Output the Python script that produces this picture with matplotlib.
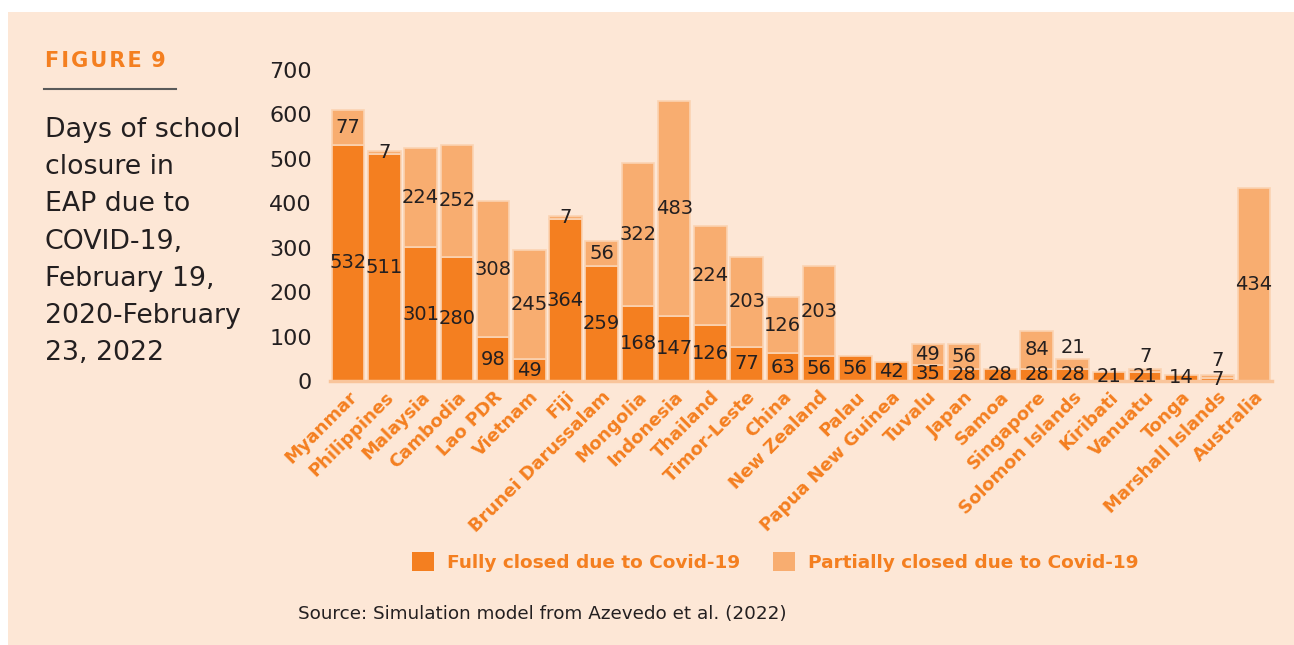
import matplotlib
matplotlib.use("Agg")
import matplotlib.pyplot as plt
from matplotlib.patches import Rectangle, Patch
from matplotlib.lines import Line2D
import numpy as np

# data
countries = ["Myanmar", "Philippines", "Malaysia", "Cambodia", "Lao PDR", "Vietnam", "Fiji",
             "Brunei Darussalam", "Mongolia", "Indonesia", "Thailand", "Timor-Leste", "China",
             "New Zealand", "Palau", "Papua New Guinea", "Tuvalu", "Japan", "Samoa", "Singapore",
             "Solomon Islands", "Kiribati", "Vanuatu", "Tonga", "Marshall Islands", "Australia"]
fully = [532, 511, 301, 280, 98, 49, 364, 259, 168, 147, 126, 77, 63,
         56, 56, 42, 35, 28, 28, 28, 28, 21, 21, 14, 7, 0]
partial = [77, 7, 224, 252, 308, 245, 7, 56, 322, 483, 224, 203, 126,
           203, 0, 0, 49, 56, 0, 84, 21, 0, 7, 0, 7, 434]
yticks = [0, 100, 200, 300, 400, 500, 600, 700]
series_names = ["Fully closed due to Covid-19", "Partially closed due to Covid-19"]
title_lines = ["Days of school", "closure in", "EAP due to", "COVID-19,",
               "February 19,", "2020-February", "23, 2022"]

# colours
bg = "#FDE7D6"
dark = "#F47F20"
light = "#F8AD70"
edge = "#FBD3B2"
ink = "#231F20"

W, H = 1294, 645
fig = plt.figure(figsize=(W / 100, H / 100), dpi=100)
fig.patch.set_facecolor("white")
fig.add_artist(Rectangle((8 / W, 0), 1 - 8 / W, 1 - 12 / H, transform=fig.transFigure,
                         facecolor=bg, edgecolor="none", zorder=0))

ax = fig.add_axes([330 / W, 1 - 381 / H, (1272 - 330) / W, 311 / H])
ax.set_facecolor("none")

x = np.arange(len(countries))
fully = np.array(fully)
partial = np.array(partial)
total = fully + partial

ax.bar(x, fully, width=0.9, color=dark, edgecolor=edge,
       linewidth=np.where(fully > 0, 1.2, 0), zorder=2)
ax.bar(x, partial, bottom=fully, width=0.9, color=light, edgecolor=edge,
       linewidth=np.where(partial > 0, 1.2, 0), zorder=2)

# value labels: centred in the segment, tiny top segments of short bars go above the bar
for i in x:
    if fully[i] > 0:
        ax.text(i, fully[i] / 2, str(fully[i]), ha="center", va="center",
                fontsize=14, color=ink, zorder=3)
    if partial[i] > 0:
        if partial[i] < 25 and total[i] < 100:
            ypos = max(total[i] + 5, fully[i] / 2 + 22)
            ax.text(i, ypos, str(partial[i]), ha="center", va="bottom",
                    fontsize=14, color=ink, zorder=3)
        else:
            ax.text(i, fully[i] + partial[i] / 2, str(partial[i]), ha="center",
                    va="center", fontsize=14, color=ink, zorder=3)

ax.set_xlim(-0.5, len(countries) - 0.5)
ax.set_ylim(0, 700)
ax.set_yticks(yticks)
ax.set_xticks(x, countries, rotation=45, ha="right", rotation_mode="anchor",
              color=dark, fontweight="bold", fontsize=13)
ax.tick_params(axis="y", length=0, labelsize=16, pad=13, labelcolor=ink)
ax.tick_params(axis="x", length=0, pad=5)
for s in ["top", "right", "left"]:
    ax.spines[s].set_visible(False)
ax.spines["bottom"].set_color("#F9C59B")
ax.spines["bottom"].set_linewidth(2.5)

# legend
handles = [Patch(facecolor=dark, edgecolor="none"), Patch(facecolor=light, edgecolor="none")]
leg = ax.legend(handles, series_names, loc="center left", bbox_to_anchor=(412 / W, 1 - 562 / H),
                bbox_transform=fig.transFigure, ncol=2, frameon=False,
                handlelength=1.2, handleheight=1.2, handletextpad=0.7,
                columnspacing=1.75, borderpad=0, borderaxespad=0,
                prop={"weight": "bold", "size": 13.3})
for t in leg.get_texts():
    t.set_color(dark)

# left-hand title block
fig.text(45 / W, 1 - 67 / H, "F\u200aI\u200aG\u200aU\u200aR\u200aE\u200a 9", color=dark,
         fontsize=15, fontweight="bold", va="baseline", ha="left")
fig.add_artist(Line2D([44 / W, 176 / W], [1 - 89 / H, 1 - 89 / H], color="#5A5A5A",
                      lw=1.5, transform=fig.transFigure))
for k, line in enumerate(title_lines):
    fig.text(45 / W, 1 - (137 + 37.2 * k) / H, line, fontsize=19.3, color=ink,
             va="baseline", ha="left")

fig.text(298 / W, 1 - 614 / H, "Source: Simulation model from Azevedo et al. (2022)",
         fontsize=13.2, color=ink, va="center", ha="left")

fig.savefig("out.png", dpi=100, facecolor=fig.get_facecolor())
